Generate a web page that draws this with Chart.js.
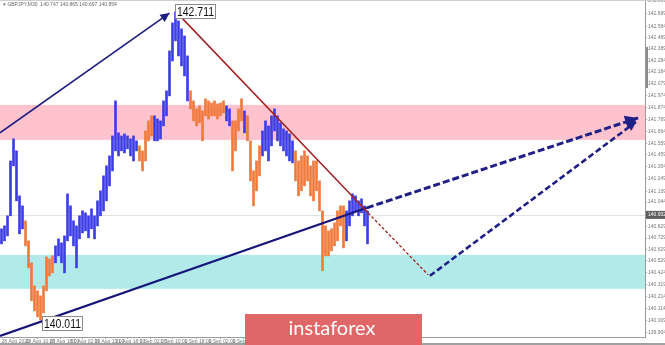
<!DOCTYPE html>
<html><head><meta charset="utf-8">
<script src="https://cdn.jsdelivr.net/npm/chart.js@4.4.1/dist/chart.umd.min.js"></script>
<style>html,body{margin:0;padding:0;background:#fff;overflow:hidden}</style>
</head><body>
<canvas id="c" width="665" height="345"></canvas>
<script>
// ---- data (prices) ----
const barHigh=[140.810,140.836,140.924,141.405,141.598,141.493,141.099,141.011,140.880,140.705,
140.512,140.310,140.267,140.223,140.310,140.564,140.547,140.573,140.661,140.722,
140.687,140.748,141.116,141.011,140.880,140.836,140.924,140.967,140.950,140.924,
140.985,140.924,141.055,141.143,141.274,141.362,141.449,141.624,141.931,141.651,
141.624,141.642,141.624,141.598,141.624,141.581,141.537,141.493,141.668,141.756,
141.800,141.800,141.773,141.756,141.931,142.019,142.369,142.614,142.711,142.632,
142.562,142.500,142.325,142.019,141.931,141.861,141.887,141.843,141.949,141.931,
141.913,141.931,141.905,141.913,141.931,141.887,141.861,141.756,141.756,141.861,
141.949,141.843,141.800,141.581,141.318,141.405,141.537,141.668,141.756,141.712,
141.800,141.861,141.800,141.738,141.686,141.668,141.642,141.581,141.493,141.405,
141.449,141.493,141.449,141.362,141.405,141.405,141.230,140.967,140.836,140.792,
140.810,140.862,140.967,141.011,141.011,140.967,141.055,141.116,141.099,141.055,
141.073,141.011,140.967];
const barLow=[140.678,140.705,140.748,140.924,141.362,141.055,140.766,140.810,140.661,140.468,
140.179,140.091,140.039,140.011,140.074,140.267,140.398,140.424,140.512,140.573,
140.512,140.424,140.705,140.748,140.661,140.468,140.722,140.775,140.792,140.731,
140.810,140.722,140.836,140.924,140.967,141.055,141.186,141.318,141.493,141.449,
141.493,141.475,141.511,141.449,141.405,141.493,141.405,141.318,141.405,141.581,
141.624,141.581,141.581,141.598,141.712,141.800,141.975,142.281,142.457,142.325,
142.238,142.150,141.931,141.861,141.756,141.712,141.738,141.581,141.800,141.773,
141.800,141.800,141.773,141.800,141.826,141.756,141.712,141.318,141.493,141.668,
141.756,141.651,141.581,141.230,141.011,141.143,141.274,141.449,141.493,141.405,
141.537,141.668,141.581,141.537,141.493,141.449,141.405,141.388,141.230,141.099,
141.143,141.186,141.230,141.099,141.055,141.143,140.967,140.442,140.573,140.573,
140.617,140.661,140.705,140.836,140.643,140.705,140.836,140.924,140.967,140.924,
140.950,140.836,140.678];
const waveStarts=[0,8,18,46,51,63,75,77,81,82,87,98,115];
const waveKinds=['up','down','up','down','up','down','up','down','up','down','up','down','up'];
const yTickValues=[142.809,142.699,142.584,142.489,142.389,142.284,142.184,142.079,141.974,141.874,
141.769,141.664,141.559,141.459,141.354,141.249,141.139,141.044,140.829,140.729,
140.629,140.529,140.424,140.319,140.214,140.114,140.009,139.904];
const xTickBars=[0,8,16,23,31,38,46,53,61,69,77,84,92,100,107,115];
const xTickLabels=['28 Aug 2020','28 Aug 10:00','28 Aug 18:00','31 Aug 02:00','31 Aug 10:00','31 Aug 18:00',
'1 Sep 02:00','1 Sep 10:00','1 Sep 18:00','2 Sep 02:00','2 Sep 10:00','2 Sep 18:00','3 Sep 02:00',
'3 Sep 10:00','3 Sep 18:00','4 Sep 02:00'];
const resistanceZone=[141.589,141.896];
const supportZone=[140.284,140.582];
const currentPrice=140.932;
const highMark={bar:58,price:142.711};
const lowMark={bar:13,price:140.011};
const impulseArrow=[{x:-0.5,y:141.651},{x:56,y:142.700}];
const downTrend=[{x:58.2,y:142.711},{x:122.2,y:140.950}];
const downTrendExt=[{x:122.2,y:140.950},{x:142.2,y:140.407}];
const supportLine=[{x:-0.5,y:139.872},{x:121.8,y:140.994}];
const forecastA=[{x:121.8,y:140.994},{x:212.2,y:141.782}];
const forecastB=[{x:142.8,y:140.398},{x:211.5,y:141.747}];
const titleText='GBPJPY,M30  140.747 140.865 140.697 140.854';

// ---- styles ----
const UP='#3d3de8', DOWN='#f07a3c', NAVY='#16167a', RED='#a32020';
function waveOf(i){let k=waveKinds[0];for(let j=0;j<waveStarts.length;j++){if(i>=waveStarts[j])k=waveKinds[j];}return k;}
const barColors=barHigh.map((h,i)=>waveOf(i)==='up'?UP:DOWN);

function lineDs(data,color,width,dash,arrow){
  return {type:'line',data,borderColor:color,borderWidth:width,borderDash:dash,pointRadius:0,
    fill:false,tension:0,order:1,arrowHead:arrow};
}

const overlay={id:'overlay',
  beforeDatasetsDraw(chart){
    const {ctx,chartArea:a,scales:{y}}=chart;
    ctx.save();
    ctx.fillStyle='#ffc3cd';
    let t=y.getPixelForValue(resistanceZone[1]),b=y.getPixelForValue(resistanceZone[0]);
    ctx.fillRect(a.left,t,a.right-a.left,b-t);
    ctx.fillStyle='#b2eaea';
    t=y.getPixelForValue(supportZone[1]);b=y.getPixelForValue(supportZone[0]);
    ctx.fillRect(a.left,t,a.right-a.left,b-t);
    ctx.strokeStyle='#e2e2e2';ctx.lineWidth=1;
    const cy=Math.round(y.getPixelForValue(currentPrice))+0.5;
    ctx.beginPath();ctx.moveTo(a.left,cy);ctx.lineTo(a.right,cy);ctx.stroke();
    ctx.restore();
  },
  afterDatasetsDraw(chart){
    const ctx=chart.ctx;
    chart.data.datasets.forEach((ds,i)=>{
      if(!ds.arrowHead)return;
      const pts=chart.getDatasetMeta(i).data;
      const p1=pts[pts.length-2],p2=pts[pts.length-1];
      const ang=Math.atan2(p2.y-p1.y,p2.x-p1.x);
      const L=ds.arrowHead, W=L*0.5;
      ctx.save();ctx.fillStyle=ds.borderColor;ctx.beginPath();
      ctx.moveTo(p2.x,p2.y);
      ctx.lineTo(p2.x-L*Math.cos(ang)+W*Math.sin(ang),p2.y-L*Math.sin(ang)-W*Math.cos(ang));
      ctx.lineTo(p2.x-L*Math.cos(ang)-W*Math.sin(ang),p2.y-L*Math.sin(ang)+W*Math.cos(ang));
      ctx.closePath();ctx.fill();ctx.restore();
    });
  },
  afterDraw(chart){
    const {ctx,chartArea:a,scales:{x,y}}=chart;
    ctx.save();
    ctx.fillStyle='#cfcfcf';ctx.fillRect(0,0,665,1);
    function box(text,left,top){
      const W=41,H=15,TW=37;
      ctx.fillStyle='#ffffff';ctx.fillRect(left,top,W,H);
      ctx.strokeStyle='#8a8a8a';ctx.lineWidth=1;ctx.strokeRect(left+0.5,top+0.5,W-1,H-1);
      ctx.font='13px "Liberation Sans", Arial, sans-serif';
      const mw=ctx.measureText(text).width;
      ctx.save();ctx.translate(left+2,top+8);ctx.scale(TW/mw,1);
      ctx.fillStyle='#111';ctx.textBaseline='middle';ctx.textAlign='left';
      ctx.fillText(text,0,0);ctx.restore();
    }
    box(highMark.price.toFixed(3),Math.round(x.getPixelForValue(highMark.bar))-1,Math.round(y.getPixelForValue(highMark.price))-8);
    box(lowMark.price.toFixed(3),Math.round(x.getPixelForValue(lowMark.bar))+1,Math.round(y.getPixelForValue(lowMark.price))-4);
    const cy=y.getPixelForValue(currentPrice);
    ctx.fillStyle='#5e5e5e';ctx.fillRect(a.right+1,cy-4,19,8);
    ctx.fillStyle='#fff';ctx.font='5px "Liberation Sans", Arial, sans-serif';ctx.textAlign='left';ctx.textBaseline='middle';
    ctx.fillText(currentPrice.toFixed(3),a.right+3,cy);
    ctx.fillStyle='#8c8c8c';ctx.fillRect(a.right+1,47,2,41);
    ctx.fillStyle='#666';ctx.font='5px "Liberation Sans", Arial, sans-serif';ctx.textBaseline='middle';
    ctx.fillText('\u25BE '+titleText,3,5);
    ctx.fillStyle='#e06767';ctx.fillRect(245,314,177,31);
    ctx.fillStyle='#ffffff';ctx.font='20px Lato, "Open Sans", sans-serif';ctx.textAlign='center';ctx.textBaseline='middle';
    ctx.fillText('instaforex',332,329);
    ctx.fillStyle='#a0a0a0';ctx.fillRect(0,343,245,2);ctx.fillRect(422,343,243,2);
    ctx.restore();
  }
};

new Chart(document.getElementById('c'),{
  type:'bar',
  data:{datasets:[
    {type:'bar',data:barHigh.map((h,i)=>({x:i,y:[barLow[i],h]})),backgroundColor:barColors,
      barThickness:2,grouped:false,order:2,borderWidth:0},
    lineDs(impulseArrow,'#1e1e82',1.6,[],9),
    lineDs(downTrend,RED,1.5,[],0),
    lineDs(downTrendExt,RED,1.3,[3,2],0),
    lineDs(supportLine,NAVY,2.2,[],0),
    lineDs(forecastA,'#1f1f86',3,[7,3],13),
    lineDs(forecastB,'#1f1f86',2.6,[6,3],9)
  ]},
  options:{
    responsive:false,animation:false,devicePixelRatio:1,
    layout:{padding:0},
    plugins:{legend:{display:false},tooltip:{enabled:false}},
    scales:{
      x:{type:'linear',min:-0.5,max:214.5,offset:false,
        grid:{display:true,drawOnChartArea:false,drawTicks:true,tickLength:2,color:'#aaa'},
        border:{display:true,color:'#9a9a9a'},
        afterBuildTicks:s=>{s.ticks=xTickBars.map(v=>({value:v}));},
        afterFit:s=>{s.height=8;s.paddingLeft=0;s.paddingRight=0;},
        ticks:{autoSkip:false,maxRotation:0,align:'start',padding:0,color:'#777',
          font:{size:5,family:'"Liberation Sans", Arial, sans-serif'},
          callback:(v,i)=>xTickLabels[i]}},
      y:{position:'right',min:139.862,max:142.815,
        grid:{display:true,drawOnChartArea:false,drawTicks:true,tickLength:2,color:'#aaa'},
        border:{display:true,color:'#9a9a9a'},
        afterBuildTicks:s=>{s.ticks=yTickValues.map(v=>({value:v}));},
        afterFit:s=>{s.width=20;s.paddingTop=0;s.paddingBottom=0;},
        ticks:{padding:1,color:'#777',font:{size:5,family:'"Liberation Sans", Arial, sans-serif'},
          callback:v=>Number(v).toFixed(3)}}
    }
  },
  plugins:[overlay]
});
</script>
</body></html>
